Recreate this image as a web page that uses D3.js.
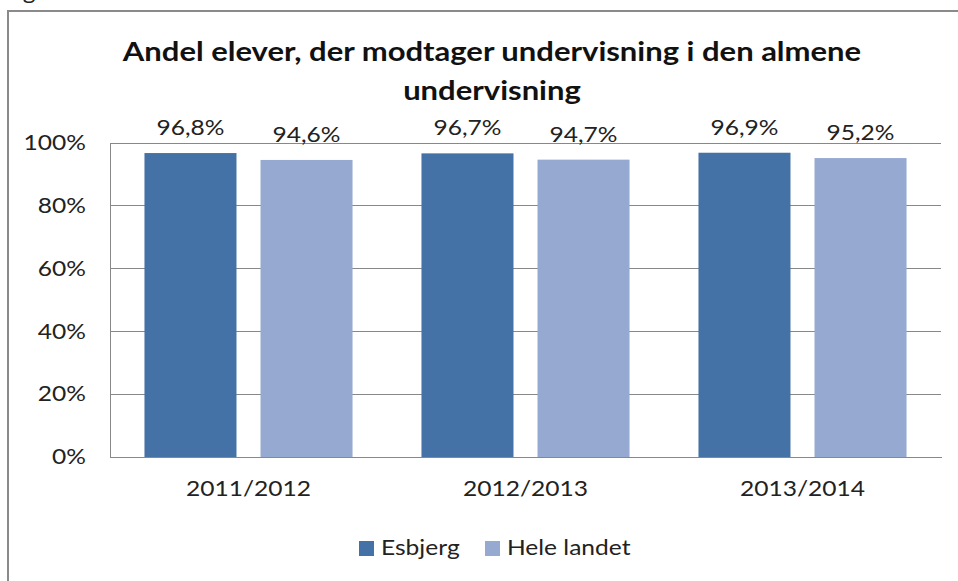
<!DOCTYPE html>
<html>
<head>
<meta charset="utf-8">
<script src="https://cdn.jsdelivr.net/npm/d3@7"></script>
<style>
  body { margin: 0; background: #fff; }
  svg { display: block; font-family: Lato, "Noto Sans", sans-serif; }
</style>
</head>
<body>
<div id="chart"></div>
<script>
// Andel elever i almen undervisning, Esbjerg vs hele landet

const categories = ['2011/2012', '2012/2013', '2013/2014']
const series     = ['Esbjerg', 'Hele landet']
const esbjerg    = [96.8, 96.7, 96.9]
const heleLandet = [94.6, 94.7, 95.2]
const yTicks     = [0, 20, 40, 60, 80, 100]
const colors     = ['#4572a6', '#95a9d1']

const W = 958, H = 581
const PL = 110, PR = 941, PT = 143, PB = 457 // plot area
const SX = 1.17 // the source picture is stretched sideways, so widen the text too

const svg = d3.select('#chart').append('svg').attr('width', W).attr('height', H)

// widen a text selection around its own x position
function stretch(sel) {
  sel.attr('x', function () { return (+this.getAttribute('x') || 0) / SX })
     .attr('transform', `scale(${SX},1)`)
}

// outer chart frame (runs off the page to the right and bottom)
svg.append('rect').attr('x', 8).attr('y', 11).attr('width', 1000).attr('height', 1000)
  .attr('fill', 'none').attr('stroke', '#8a8a8a').attr('stroke-width', 2)

// caption cut off at the top of the picture
svg.append('text').attr('x', 3).attr('y', -1).attr('font-size', 21).attr('fill', '#222')
  .text('Figur').call(stretch)

const x0 = d3.scaleBand(categories, [PL, PR])
const x1 = d3.scaleBand(series, [0, x0.bandwidth()]).paddingInner(0.207).paddingOuter(0.297)
const y  = d3.scaleLinear([0, 100], [PB, PT])

// gridlines
svg.append('g').selectAll('line').data(yTicks).join('line')
  .attr('x1', PL).attr('x2', PR)
  .attr('y1', d => y(d)).attr('y2', d => y(d))
  .attr('stroke', '#888').attr('stroke-width', 1).attr('shape-rendering', 'crispEdges')

// y axis
const ya = svg.append('g').attr('transform', `translate(${PL},0)`)
  .call(d3.axisLeft(y).tickValues(yTicks).tickSize(0).tickPadding(24).tickFormat(d => d + '%'))
ya.select('.domain').attr('stroke', '#888').attr('shape-rendering', 'crispEdges')
ya.selectAll('text').attr('font-size', 21).attr('font-family', 'Lato, sans-serif').attr('fill', '#222')
  .call(stretch)

// x axis
const xa = svg.append('g').attr('transform', `translate(0,${PB})`)
  .call(d3.axisBottom(x0).tickSize(0).tickPadding(24))
xa.select('.domain').attr('stroke', '#888').attr('shape-rendering', 'crispEdges')
xa.selectAll('text').attr('font-size', 21).attr('font-family', 'Lato, sans-serif').attr('fill', '#222')
  .call(stretch)

// bars
const rows = categories.map((c, i) => ({ c, vals: [esbjerg[i], heleLandet[i]] }))
const grp = svg.append('g').selectAll('g').data(rows).join('g')
  .attr('transform', d => `translate(${x0(d.c)},0)`)
const cells = d => d.vals.map((v, j) => ({ s: series[j], v, j }))
grp.selectAll('rect').data(cells).join('rect')
  .attr('x', d => x1(d.s)).attr('width', x1.bandwidth())
  .attr('y', d => y(d.v)).attr('height', d => PB - y(d.v))
  .attr('fill', d => colors[d.j])
grp.selectAll('text').data(cells).join('text')
  .attr('x', d => x1(d.s) + x1.bandwidth() / 2).attr('y', d => y(d.v) - 18)
  .attr('text-anchor', 'middle').attr('font-size', 21).attr('fill', '#222')
  .text(d => d.v.toFixed(1).replace('.', ','))
  .text(function () { return this.textContent + '%' })
  .call(stretch)

// title
const title = svg.append('text').attr('text-anchor', 'middle').attr('font-weight', 'bold')
  .attr('font-size', 26.5).attr('fill', '#111').attr('transform', `scale(${SX},1)`)
title.append('tspan').attr('x', 492 / SX).attr('y', 61).text('Andel elever, der modtager undervisning i den almene')
title.append('tspan').attr('x', 492 / SX).attr('y', 100).text('undervisning')

// legend
const lg = svg.append('g').selectAll('g').data(series).join('g')
  .attr('transform', (d, i) => `translate(${[359, 485][i]},541)`)
lg.append('rect').attr('width', 15).attr('height', 15).attr('fill', (d, i) => colors[i])
lg.append('text').attr('x', 22).attr('y', 14).attr('font-size', 21).attr('fill', '#222').text(d => d)
  .call(stretch)
</script>
</body>
</html>
